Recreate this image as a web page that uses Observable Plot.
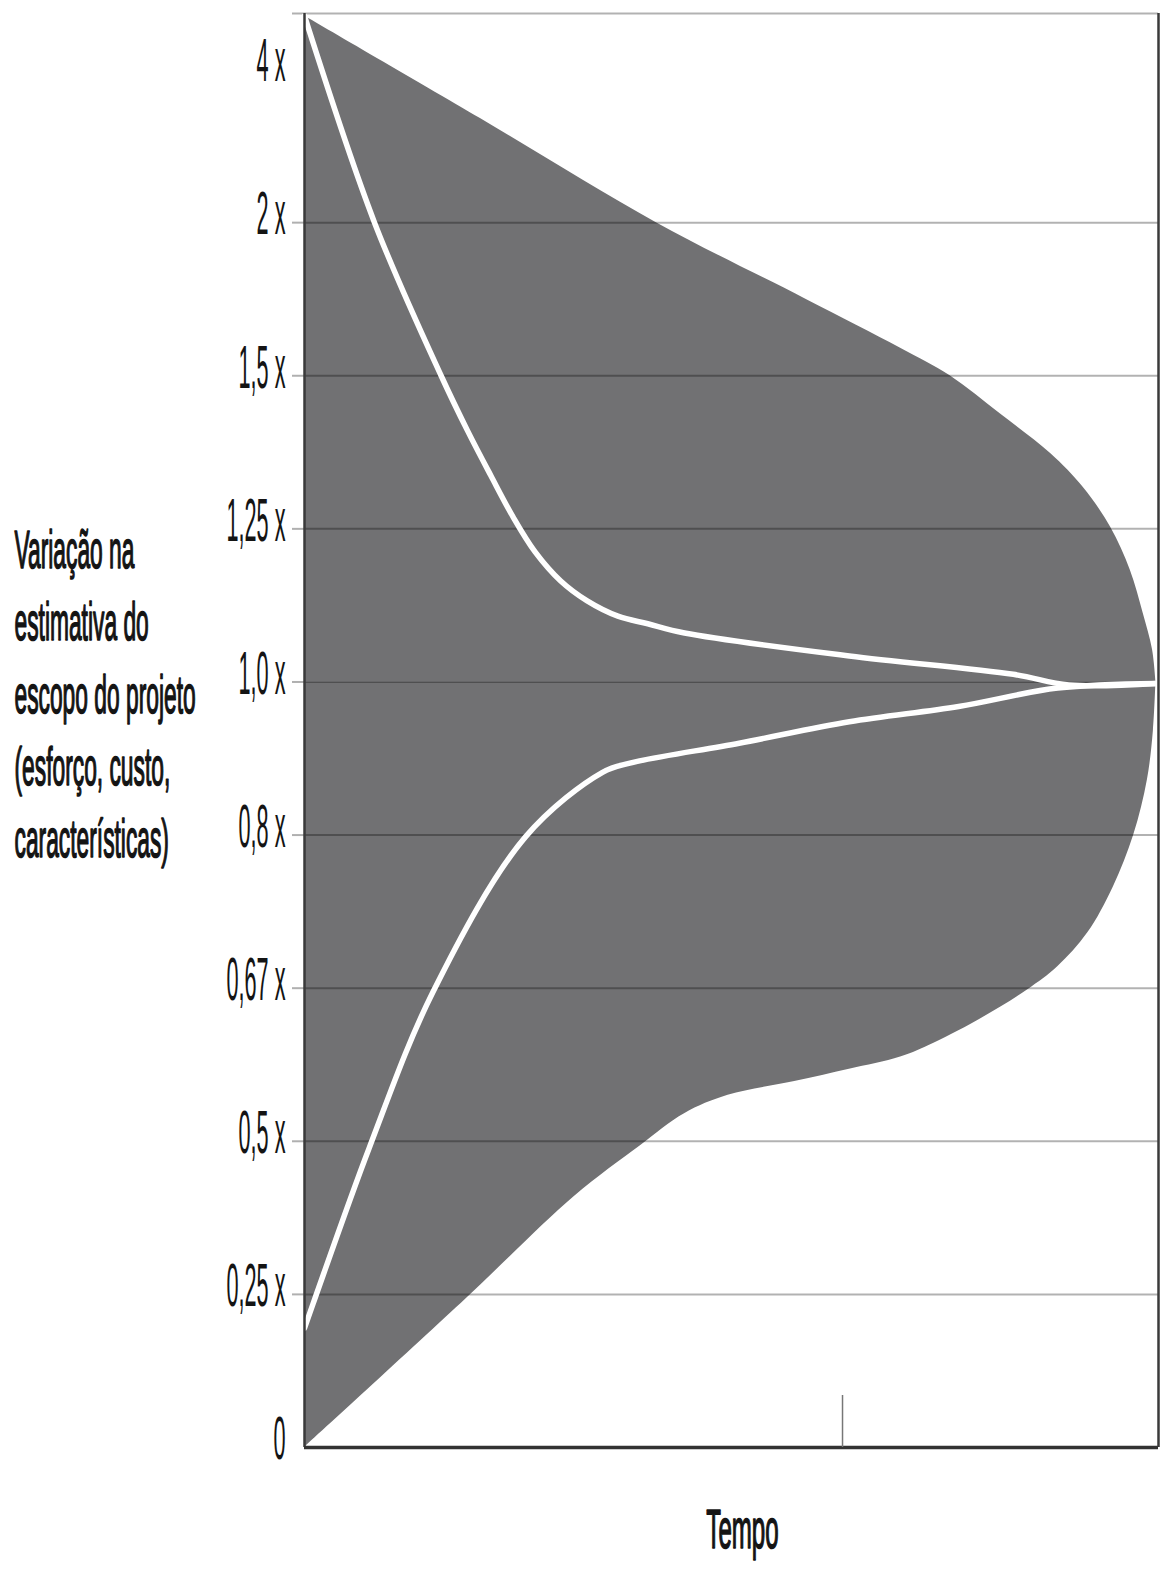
<!DOCTYPE html>
<html><head><meta charset="utf-8">
<script src="https://cdn.jsdelivr.net/npm/d3@7"></script>
<script src="https://cdn.jsdelivr.net/npm/@observablehq/plot@0.6"></script>
<style>body{margin:0;background:#fff}</style>
</head><body><div id="chart"></div>
<script>
// Y ticks: evenly spaced index positions with multiplier labels
const tickIndex = [0, 1, 2, 3, 4, 5, 6, 7, 8, 9];
const tickLabels = ["0", "0,25 x", "0,5 x", "0,67 x", "0,8 x", "1,0 x", "1,25 x", "1,5 x", "2 x", "4 x"];
const yMax = 9.366;                       // top of the frame (above the "4 x" label)
const gridIndex = [1, 2, 3, 4, 5, 6, 7, 8, yMax];
const timeMarks = [63];
const frameT = [0, 100];
const baseV = [0];
const centerIndex = tickLabels.indexOf("1,0 x");
const yAxisLabel = "Variação na\nestimativa do\nescopo do projeto\n(esforço, custo,\ncaracterísticas)";
const xAxisLabel = "Tempo";

// Cone: upper boundary (left→right)
const upperT = [0, 20.6, 41.2, 58.7, 69.8, 75.6, 81.5, 87.4, 91.2, 94.4, 96.7, 98.2, 99.3, 99.7];
const upperV = [9.35, 8.68, 8.00, 7.50, 7.18, 7.00, 6.75, 6.49, 6.27, 6.01, 5.73, 5.45, 5.21, 5.0];
// Cone: lower boundary (left→right)
const lowerT = [0, 18.9, 31.6, 39.3, 44.5, 49.6, 57.4, 63.8, 69.8, 73.7, 79.5, 84.7, 88.2, 91.7, 94.7, 97.1, 98.7, 99.4, 99.7];
const lowerV = [0, 0.97, 1.64, 1.97, 2.18, 2.30, 2.39, 2.47, 2.55, 2.64, 2.81, 2.99, 3.14, 3.36, 3.66, 4.00, 4.36, 4.68, 5.0];

// White estimate lines
const highT = [0, 8.2, 16.0, 19.1, 21.8, 24.4, 27.0, 30.0, 33.1, 36.7, 40.2, 44.5, 63.8, 83.0, 89.5, 99.8];
const highV = [9.35, 8.00, 7.00, 6.64, 6.35, 6.08, 5.85, 5.66, 5.53, 5.43, 5.38, 5.32, 5.17, 5.05, 4.98, 4.99];
const lowT = [0, 1.2, 7.6, 15.0, 25.9, 34.9, 38.1, 50.9, 63.8, 76.6, 88.2, 99.8];
const lowV = [0.78, 0.97, 1.96, 2.97, 3.99, 4.41, 4.47, 4.60, 4.74, 4.84, 4.96, 4.99];

const upper = upperT.map((t, i) => ({t, v: upperV[i]}));
const lower = lowerT.map((t, i) => ({t, v: lowerV[i]}));
const high = highT.map((t, i) => ({t, v: highV[i]}));
const low = lowT.map((t, i) => ({t, v: lowV[i]}));

const band = "#717173";
const ink = "#141414";

const chart = Plot.plot({
  width: 1165,
  height: 1570,
  marginTop: 13,
  marginBottom: 123,
  marginLeft: 304,
  marginRight: 7,
  style: {fontFamily: "'Liberation Sans', Arial, sans-serif", color: ink, background: "#fff"},
  x: {domain: [0, 100]},
  y: {domain: [0, yMax]},
  marks: [
    Plot.areaY(upper, {x: "t", y1: () => centerIndex, y2: "v", fill: band, curve: "catmull-rom"}),
    Plot.areaY(lower, {x: "t", y1: "v", y2: () => centerIndex, fill: band, curve: "catmull-rom"}),
    Plot.ruleY(gridIndex, {stroke: "#000", strokeOpacity: 0.3, strokeWidth: 2}),
    Plot.axisY(gridIndex, {tickSize: 12, tickFormat: () => "", label: null, stroke: "#b0b0b0", strokeWidth: 2}),
    Plot.line(high, {x: "t", y: "v", stroke: "#fff", strokeWidth: 5.5, curve: "catmull-rom"}),
    Plot.line(low, {x: "t", y: "v", stroke: "#fff", strokeWidth: 5.5, curve: "catmull-rom"}),
    Plot.ruleX(frameT, {stroke: "#3a3a3a", strokeWidth: 2.5}),
    Plot.ruleY(baseV, {stroke: "#333", strokeWidth: 3.5}),
    Plot.axisX(timeMarks, {tickSize: -52, tickFormat: () => "", label: null, stroke: "#777", strokeWidth: 1.5}),
    Plot.axisY(tickIndex, {tickSize: 0, tickPadding: 19, dy: -8, label: null, tickFormat: (i) => tickLabels[i], fontSize: 62, fill: ink, stroke: ink, strokeWidth: 1.6}),
    Plot.text([yAxisLabel], {frameAnchor: "left", dx: -290, dy: -41, textAnchor: "start", fontSize: 53, lineHeight: 1.36, fill: ink, stroke: ink, strokeWidth: 1.6}),
    Plot.text([xAxisLabel], {frameAnchor: "bottom", dx: 11, dy: 100, fontSize: 56, fill: ink, stroke: ink, strokeWidth: 1.6})
  ]
});

// Condensed lettering (narrow, tall type as in the original)
for (const t of chart.querySelectorAll("text")) {
  const g = t.closest("g[aria-label]");
  const lab = g ? g.getAttribute("aria-label") : "";
  const s = lab === "y-axis tick label" ? 0.35 : 0.43;
  let tr = t.getAttribute("transform");
  if (!tr) {
    const x = +t.getAttribute("x") || 0, y = +t.getAttribute("y") || 0;
    t.removeAttribute("x"); t.removeAttribute("y");
    tr = `translate(${x},${y})`;
  }
  t.setAttribute("transform", tr + ` scale(${s},1)`);
}
document.getElementById("chart").appendChild(chart);
</script>
</body></html>
